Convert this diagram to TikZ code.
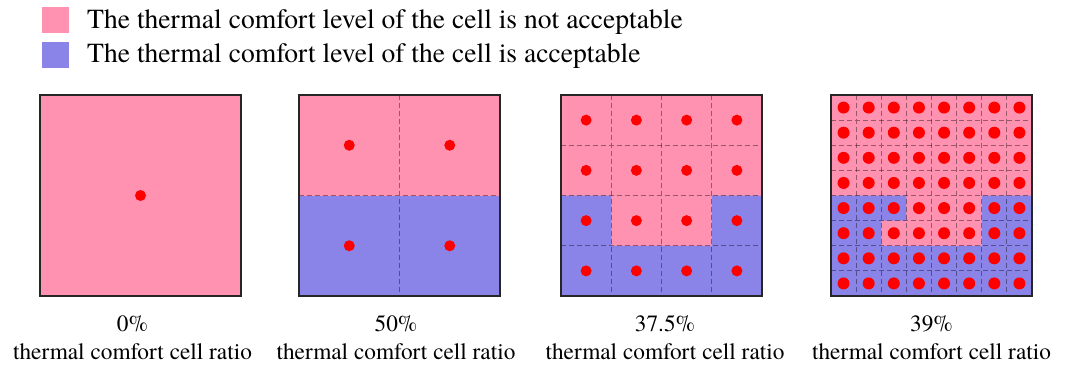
\documentclass[tikz,border=0pt]{standalone}
\usepackage{fontspec}
\setmainfont{TeX Gyre Termes}
\usepackage{xcolor}
\definecolor{warmpink}{RGB}{255,146,177}
\definecolor{coolblue}{RGB}{138,132,232}
\definecolor{probered}{RGB}{255,0,0}

\tikzset{
    gridline/.style={draw=black, draw opacity=0.4, line width=0.9pt, dash pattern=on 5pt off 3pt},
    frame/.style={draw=black!85, line width=1.1pt},
    probe/.style={circle, fill=probered, inner sep=0pt, minimum size=11pt},
    legendtext/.style={font=\fontsize{27.6}{30}\selectfont, anchor=base west, inner sep=0pt},
    ratiotext/.style={font=\fontsize{23.3}{26}\selectfont, anchor=base, inner sep=0pt}
}

\begin{document}
\begin{tikzpicture}[x=1pt, y=-1pt]
    \useasboundingbox (0,0) rectangle (1069,367);
    % legend
    \fill [warmpink] (42,7) rectangle (69,33);
    \fill [coolblue] (42,42) rectangle (69,68);
    \node [legendtext] (hot) at (87,28) {The thermal comfort level of the cell is not acceptable};
    \node [legendtext] (ok) at (87,62) {The thermal comfort level of the cell is acceptable};

    % 1 x 1
    \fill [warmpink] (40,95) rectangle (241,296);
    \draw [frame] (40,95) rectangle (241,296);
    \node [probe] (p1) at (140.5,195.5) {};

    % 2 x 2
    \begin{scope}[shift={(299,95)}, x=100.5pt, y=-100.5pt]
        \fill [warmpink] (0,0) rectangle (2,1);
        \fill [coolblue] (0,1) rectangle (2,2);
        \draw [gridline] (1,0)--(1,2) (0,1)--(2,1);
        \draw [frame] (0,0) rectangle (2,2);
        \foreach \i in {1,2}
            \foreach \j in {1,2}
                \node [probe] (q\i\j) at (\i-0.5,\j-0.5) {};
    \end{scope}

    % 4 x 4
    \begin{scope}[shift={(561,95)}, x=50.25pt, y=-50.25pt]
        \fill [warmpink] (0,0) rectangle (4,4);
        \fill [coolblue] (0,2) rectangle (1,4) (3,2) rectangle (4,4) (0,3) rectangle (4,4);
        \foreach \k in {1,2,3}
            \draw [gridline] (\k,0)--(\k,4) (0,\k)--(4,\k);
        \draw [frame] (0,0) rectangle (4,4);
        \foreach \i in {1,...,4}
            \foreach \j in {1,...,4}
                \node [probe] (r\i\j) at (\i-0.5,\j-0.5) {};
    \end{scope}

    % 8 x 8
    \begin{scope}[shift={(831,95)}, x=25.125pt, y=-25.125pt]
        \fill [warmpink] (0,0) rectangle (8,8);
        \fill [coolblue] (0,4) rectangle (2,6) (2,4) rectangle (3,5) (6,4) rectangle (8,6) (0,6) rectangle (8,8);
        \foreach \k in {1,...,7}
            \draw [gridline] (\k,0)--(\k,8) (0,\k)--(8,\k);
        \draw [frame] (0,0) rectangle (8,8);
        \foreach \i in {1,...,8}
            \foreach \j in {1,...,8}
                \node [probe, minimum size=12pt] (s\i\j) at (\i-0.5,\j-0.5) {};
    \end{scope}

    % ratios
    \foreach \cx/\val [count=\n] in {132.5/0\%, 396/50\%, 665/37.5\%, 931.5/39\%} {
        \node [ratiotext] (val\n) at (\cx,331.5) {\val};
        \node [ratiotext] (cap\n) at (\cx,359) {thermal comfort cell ratio};
    }
\end{tikzpicture}
\end{document}
